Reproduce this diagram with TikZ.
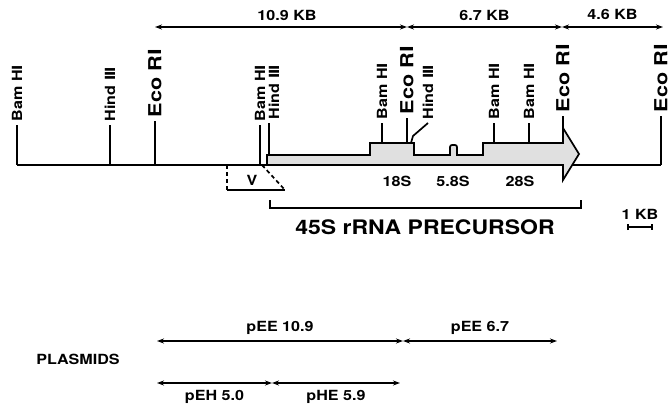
\documentclass[tikz,border=0pt]{standalone}
\usepackage{fontspec}
\setmainfont{TeX Gyre Heros}
\newfontfamily\labfont[FakeStretch=1.15]{TeX Gyre Heros}
\newfontfamily\ecofont[FakeStretch=1.2]{TeX Gyre Heros}
\newfontfamily\numfont{DejaVu Sans}
\usetikzlibrary{
  positioning,
  arrows.meta,
  calc
}
\newcommand{\rn}[1]{{\numfont\bfseries #1}}

\begin{document}
\begin{tikzpicture}[
  x=1pt, y=-1pt,
  line width=1.7pt,
  site/.style={
    rotate=90,
    anchor=west,
    inner sep=0pt,
    inner xsep=3pt,
    font=\labfont\bfseries\fontsize{14}{16}\selectfont
  },
  ecosite/.style={
    site,
    font=\ecofont\bfseries\fontsize{18}{20}\selectfont
  },
  size/.style={
    font=\labfont\bfseries\fontsize{14}{16}\selectfont
  },
  span/.style={
    {Stealth[length=7pt,width=5pt]}-{Stealth[length=7pt,width=5pt]},
    line width=1.6pt
  },
  precursor/.style={
    draw=black,
    fill=black!12,
    line width=1.7pt,
    line join=miter
  }
]
\useasboundingbox (0,0) rectangle (671,409);

% Map baseline
\coordinate (left) at (17,165);
\coordinate (right) at (661,165);
\coordinate (exon) at (483,143);
\draw (left) -- (right);

% 45S precursor transcript
\draw[precursor] (267,165) -- (267,155) -- (370,155) -- (370,143) -- (414,143)
  -- (414,155) -- (450,155) [rounded corners=2pt] -- (450,145) -- (457,145)
  [sharp corners] -- (457,155) -- (483,155) -- (483,143) -- (563,143)
  -- (563,128) -- (579,154) -- (563,180) -- (563,165) -- cycle;

% Restriction sites
\node[site] (bam1) at (17,125) {Bam H\rn{Ⅰ}};
\node[site] (hind1) at (110,125) {Hind \rn{Ⅲ}};
\node[ecosite] (eco1) at (155,121) {Eco R\rn{Ⅰ}};
\node[site] (bam2) at (260,125) {Bam H\rn{Ⅰ}};
\node[site] (hind2) at (274,123) {Hind \rn{Ⅲ}};
\node[site] (bam3) at (382,123) {Bam H\rn{Ⅰ}};
\node[ecosite] (eco2) at (407,118) {Eco R\rn{Ⅰ}};
\node[site] (hind3) at (428,123) {Hind \rn{Ⅲ}};
\node[site] (bam4) at (494,123) {Bam H\rn{Ⅰ}};
\node[site] (bam5) at (529,123) {Bam H\rn{Ⅰ}};
\node[ecosite] (eco3) at (563,116) {Eco R\rn{Ⅰ}};
\node[ecosite] (eco4) at (661,116) {Eco R\rn{Ⅰ}};

\coordinate (h2) at (269,155);
\coordinate (arrowtop) at (563,128);
\draw (bam1.west) -- (bam1.west |- left);
\draw (hind1.west) -- (hind1.west |- left);
\draw (eco1.west) -- (eco1.west |- left);
\draw (bam2.west) -- (bam2.west |- left);
\draw (h2) -- (h2 |- hind2.west);
\draw (bam3.west) -- (bam3.west |- exon);
\draw (eco2.west) -- (eco2.west |- exon);
\coordinate (h3foot) at (411,143);
\draw (hind3.west) -- ++(-15,13) -- (h3foot);
\draw (bam4.west) -- (bam4.west |- exon);
\draw (bam5.west) -- (bam5.west |- exon);
\draw (eco3.west) -- (arrowtop);
\draw (eco4.west) -- (eco4.west |- right);

% Fragment sizes
\coordinate (k0) at (155,27);
\coordinate (k1) at (407,27);
\coordinate (k2) at (562,27);
\coordinate (k3) at (663,27);
\draw[span] (k0) -- node[size, above=2pt, xshift=6pt] {10.9 KB} (k1);
\draw[span] (k1) -- node[size, above=2pt] {6.7 KB} (k2);
\draw[span] (k2) -- node[size, above=3pt] {4.6 KB} (k3);

% V region
\coordinate (v0) at (227,165);
\coordinate (v1) at (227,190);
\coordinate (v2) at (285,190);
\coordinate (v3) at (262,165);
\draw[dashed, dash pattern=on 4pt off 3pt] (v0) -- (v1);
\draw (v1) -- (v2);
\draw[dashed, dash pattern=on 4pt off 3pt] (v3) -- (v2);
\node[size] (vlab) at (252,180) {V};

% Mature rRNAs
\node[size] (r18) at (397,181) {18S};
\node[size] (r58) at (453,181) {5.8S};
\node[size] (r28) at (520,181) {28S};

% Precursor bracket
\coordinate (b0) at (270,200);
\coordinate (b1) at (581,200);
\draw (b0) -- ++(0,8) -| (b1);
\node[font=\labfont\bfseries\fontsize{20}{22}\selectfont] (prec) at (425,227) {45S rRNA PRECURSOR};

% Scale bar
\coordinate (s0) at (627,227);
\coordinate (s1) at (653,227);
\draw[{Bar[width=6pt]}-{Bar[width=6pt]}] (s0) -- node[size, above=3pt] {1 KB} (s1);

% Plasmids
\node[size] (plas) at (78,359) {PLASMIDS};
\coordinate (p0) at (157,341);
\coordinate (p1) at (403,341);
\coordinate (p2) at (557,341);
\coordinate (q0) at (157,383);
\coordinate (q1) at (272,383);
\coordinate (q2) at (400,383);
\draw[span] (p0) -- node[size, above=2pt] {pEE 10.9} (p1);
\draw[span] (p1) -- node[size, above=2pt] {pEE 6.7} (p2);
\draw[span] (q0) -- node[size, below=3pt] {pEH 5.0} (q1);
\draw[span] (q1) -- node[size, below=3pt] {pHE 5.9} (q2);

\end{tikzpicture}
\end{document}
